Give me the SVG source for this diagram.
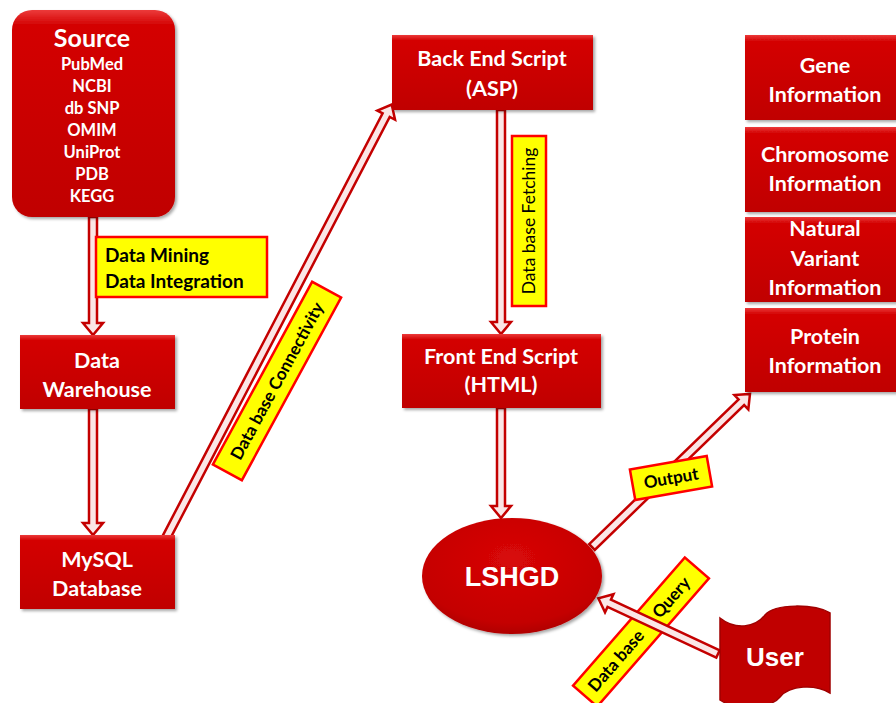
<svg xmlns="http://www.w3.org/2000/svg" width="896" height="703" viewBox="0 0 896 703">
<defs>
<linearGradient id="rg" x1="0" y1="0" x2="0" y2="1">
<stop offset="0" stop-color="#ec3a3a"/>
<stop offset="0.07" stop-color="#d40404"/>
<stop offset="1" stop-color="#c00000"/>
</linearGradient>
<radialGradient id="eg" cx="0.5" cy="0.35" r="0.65">
<stop offset="0" stop-color="#d80808"/>
<stop offset="0.85" stop-color="#c40000"/>
<stop offset="1" stop-color="#b00000"/>
</radialGradient>
<filter id="sh" x="-10%" y="-10%" width="130%" height="130%">
<feDropShadow dx="2" dy="2" stdDeviation="1.5" flood-color="#000" flood-opacity="0.35"/>
</filter>
</defs>
<style>
.box{fill:url(#rg);filter:url(#sh)}
.wt{fill:#fff;font-family:Lato,"Liberation Sans",sans-serif;font-weight:bold;font-size:21.5px;text-anchor:middle}
.src{font-size:16.5px}
.arr{fill:#fbe6e6;stroke:#c40000;stroke-width:2.5;stroke-linejoin:miter}
.lab{fill:#ffff00;stroke:#ff0000;stroke-width:2.5}
.lt{fill:#000;font-family:Lato,"Liberation Sans",sans-serif;font-weight:bold;font-size:17px}
.big{font-family:"Liberation Sans",Arial,sans-serif;font-size:27px}
</style>
<rect width="896" height="703" fill="#fff"/>
<g id="connectors">
<path class="arr" transform="translate(93,217) rotate(90)" d="M0,-4H106V-10L118,0L106,10V4H0Z"/>
<path class="arr" transform="translate(93,409) rotate(90)" d="M0,-4H114V-10L126,0L114,10V4H0Z"/>
<path class="arr" transform="translate(501,110) rotate(90)" d="M0,-4H212V-10L224,0L212,10V4H0Z"/>
<path class="arr" transform="translate(501,408) rotate(90)" d="M0,-4H98V-10L110,0L98,10V4H0Z"/>
<path class="arr" transform="translate(165,540) rotate(-62.5)" d="M0,-4H479V-10L491,0L479,10V4H0Z"/>
<path class="arr" transform="translate(592,547) rotate(-44.1)" d="M0,-4H208V-10L220,0L208,10V4H0Z"/>
<g id="label-mining">
<rect class="lab" x="96" y="237" width="171" height="60"/>
<text class="lt" x="105" y="262" style="font-size:19px">Data Mining</text>
<text class="lt" x="105" y="288" style="font-size:19px">Data Integration</text>
</g>
<g id="label-connectivity" transform="translate(277,381) rotate(-61.5)">
<rect class="lab" x="-104" y="-16.5" width="208" height="33"/>
<text class="lt" x="0" y="6" text-anchor="middle">Data base  Connectivity</text>
</g>
<g id="label-fetching" transform="translate(529,221) rotate(-90)">
<rect class="lab" x="-85" y="-17" width="170" height="34"/>
<text class="lt" x="0" y="6" text-anchor="middle" style="font-weight:normal;font-size:17.5px">Data base  Fetching</text>
</g>
<g id="label-output" transform="translate(671,478) rotate(-10)">
<rect class="lab" x="-39" y="-15.5" width="78" height="31"/>
<text class="lt" x="0" y="6" text-anchor="middle">Output</text>
</g>
<g id="label-query" transform="translate(641,632) rotate(-48.9)">
<rect class="lab" x="-85" y="-16" width="170" height="32"/>
<text class="lt" x="-38" y="6" text-anchor="middle">Data base</text>
<text class="lt" x="46" y="6" text-anchor="middle">Query</text>
</g>
<path class="arr" transform="translate(718,654) rotate(-155)" d="M0,-4H120V-10L132,0L120,10V4H0Z"/>
</g>
<g id="source">
<rect class="box" x="12" y="10" width="163" height="207" rx="20"/>
<text class="wt" x="92" y="47" style="font-size:25px">Source</text>
<text class="wt src" x="92" y="70">PubMed</text>
<text class="wt src" x="92" y="92">NCBI</text>
<text class="wt src" x="92" y="114">db SNP</text>
<text class="wt src" x="92" y="136">OMIM</text>
<text class="wt src" x="92" y="158">UniProt</text>
<text class="wt src" x="92" y="180">PDB</text>
<text class="wt src" x="92" y="202">KEGG</text>
</g>
<g id="warehouse">
<rect class="box" x="20" y="335" width="155" height="74"/>
<text class="wt" x="97" y="368">Data</text>
<text class="wt" x="97" y="397">Warehouse</text>
</g>
<g id="mysql">
<rect class="box" x="20" y="535" width="155" height="74"/>
<text class="wt" x="97" y="567">MySQL</text>
<text class="wt" x="97" y="596">Database</text>
</g>
<g id="backend">
<rect class="box" x="392" y="35" width="201" height="75"/>
<text class="wt" x="492" y="66">Back End Script</text>
<text class="wt" x="492" y="96">(ASP)</text>
</g>
<g id="frontend">
<rect class="box" x="402" y="334" width="199" height="74"/>
<text class="wt" x="501" y="364">Front End Script</text>
<text class="wt" x="501" y="392">(HTML)</text>
</g>
<g id="lshgd">
<ellipse cx="512" cy="576" rx="90" ry="58" fill="url(#eg)" filter="url(#sh)"/>
<text class="wt big" x="512" y="586">LSHGD</text>
</g>
<g id="user">
<path d="M720,618 C735,630 755,628 765,615 C775,603 815,604 830,613 L830,693 C815,684 790,685 780,697 C770,709 735,710 720,700 Z" fill="#c00000" stroke="#a00000" stroke-width="1.5"/>
<text class="wt big" x="775" y="666" style="font-size:26px">User</text>
</g>
<g id="gene">
<rect class="box" x="745" y="35" width="170" height="85"/>
<text class="wt" x="825" y="73">Gene</text>
<text class="wt" x="825" y="102">Information</text>
</g>
<g id="chromosome">
<rect class="box" x="745" y="127" width="170" height="85"/>
<text class="wt" x="825" y="162">Chromosome</text>
<text class="wt" x="825" y="191">Information</text>
</g>
<g id="variant">
<rect class="box" x="745" y="217" width="170" height="85"/>
<text class="wt" x="825" y="236">Natural</text>
<text class="wt" x="825" y="266">Variant</text>
<text class="wt" x="825" y="295">Information</text>
</g>
<g id="protein">
<rect class="box" x="745" y="308" width="170" height="84"/>
<text class="wt" x="825" y="344">Protein</text>
<text class="wt" x="825" y="373">Information</text>
</g>
</svg>
